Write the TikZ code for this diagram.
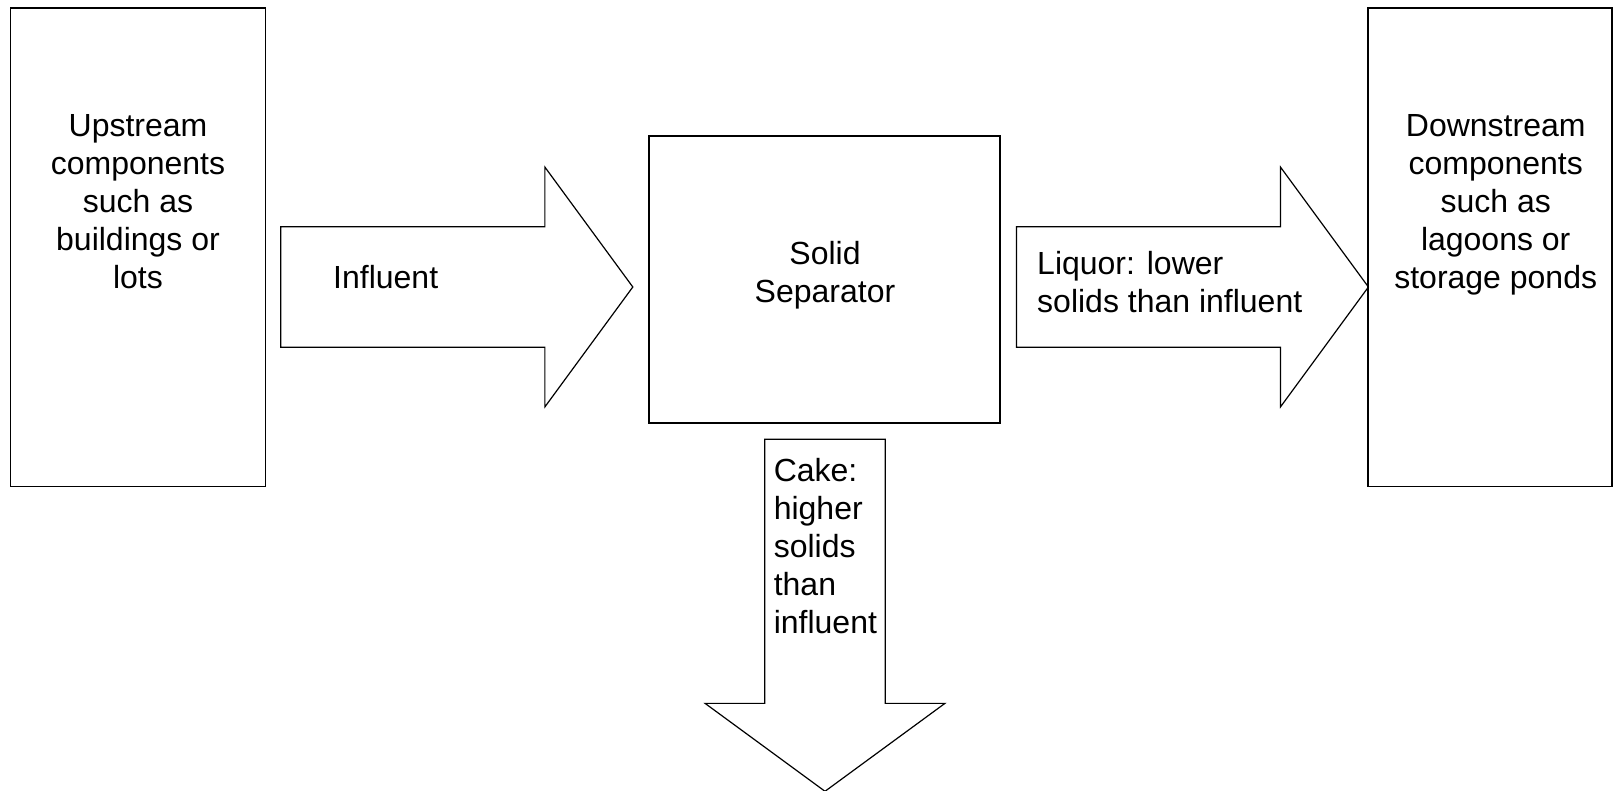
\documentclass[tikz,border=0pt]{standalone}
\usepackage{fontspec}
\setmainfont{Liberation Sans}
\usetikzlibrary{shapes.arrows}

\begin{document}
\begin{tikzpicture}[x=1pt, y=-1pt]
    \tikzstyle{block} = [rectangle, draw, line width=1.6pt, inner sep=0pt, outer sep=0pt]
    \tikzstyle{flow} = [single arrow, draw, line width=1.2pt, inner xsep=0pt, inner ysep=59.7pt, outer sep=0pt,
        minimum height=352, single arrow head extend=59.6, single arrow tip angle=107.5, anchor=tail]
    \tikzstyle{txt} = [font=\fontsize{32}{38}\selectfont, inner sep=0pt]

    \useasboundingbox (0,0) rectangle (1613,791);

    \node (upstream) [block, minimum width=255.1, minimum height=478.4] at (137.85,247.4) {};
    \node (separator) [block, minimum width=350.8, minimum height=287] at (824.5,279.3) {};
    \node (downstream) [block, minimum width=243.8, minimum height=478.4] at (1490.1,247.4) {};

    \node (influent) [flow] at (280.8,287) {};
    \node (liquor) [flow] at (1016.4,287) {};
    \node (cake) [flow, rotate=-90] at (825,439.3) {};

    \node (upstreamtext) [txt, align=center] at (138,201.6) {Upstream\\components\\such as\\buildings or\\lots};
    \node (separatortext) [txt, align=center] at (825,275.3) {Solid\\Separator};
    \node (downstreamtext) [txt, align=center] at (1495.7,205.2) {Downstream\\components\\such as\\lagoons or\\storage ponds};
    \node (influenttext) [txt, anchor=west] at (333,276.7) {Influent};
    \node (liquortext) [txt, anchor=west, align=left] at (1037,282) {Liquor: lower\\solids than influent};
    \node (caketext) [txt, anchor=west, align=left] at (773.6,545.7) {Cake:\\higher\\solids\\than\\influent};
\end{tikzpicture}
\end{document}
